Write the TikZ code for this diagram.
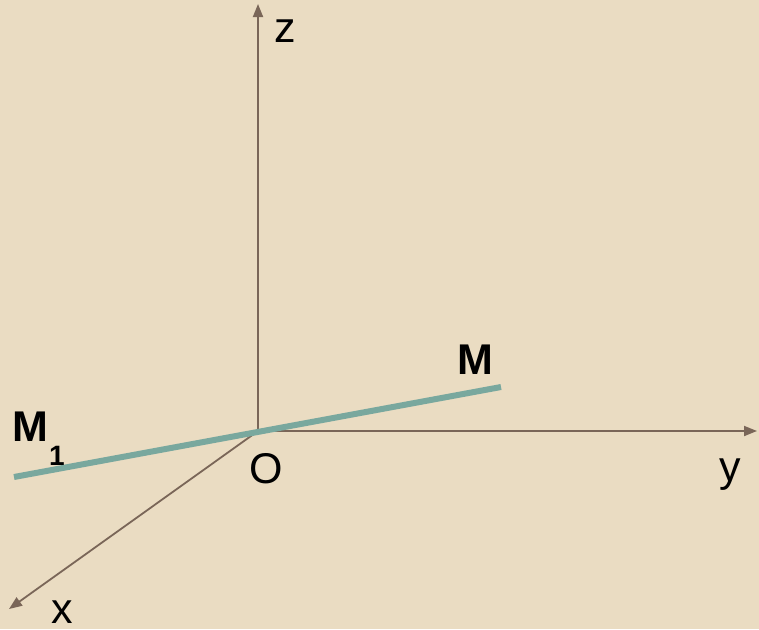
\documentclass[tikz,border=0pt]{standalone}
\usepackage{fontspec}
\setmainfont{Liberation Sans}
\usetikzlibrary{arrows.meta}
\definecolor{bg}{HTML}{EADCC2}
\definecolor{axiscol}{HTML}{7A6658}
\definecolor{teal}{HTML}{79A89E}
\begin{document}
\begin{tikzpicture}[x=1pt,y=-1pt,
  axis/.style={draw=axiscol,line width=1.8pt,-{Triangle[length=13pt,width=10pt]}},
  lbl/.style={anchor=base,inner sep=0pt,font=\fontsize{43}{43}\selectfont},
  blbl/.style={lbl,font=\fontsize{43}{43}\selectfont\bfseries}]
\fill[bg] (0,0) rectangle (759,629);
\useasboundingbox (0,0) rectangle (759,629);
\coordinate (O) at (258,431);
\coordinate (zend) at (258,4);
\coordinate (yend) at (757,431);
\coordinate (xend) at (9,609);
\coordinate (M1p) at (14,477);
\coordinate (Mp) at (501,387);
\draw[axis] (O) -- (zend);
\draw[axis] (O) -- (yend);
\draw[axis] (O) -- (xend);
\draw[teal,line width=6pt] (M1p) -- (Mp);
\node[lbl] (zl) at (285,42) {z};
\node[lbl] (yl) at (730,481) {y};
\node[lbl] (xl) at (62,623) {x};
\node[lbl] (ol) at (266,483) {O};
\node[blbl] (ml) at (475,374) {M};
\node[blbl] (m1l) at (30,441) {M};
\node[anchor=base,inner sep=0pt,font=\fontsize{28}{28}\selectfont\bfseries] (sub) at (57,465) {1};
\end{tikzpicture}
\end{document}
